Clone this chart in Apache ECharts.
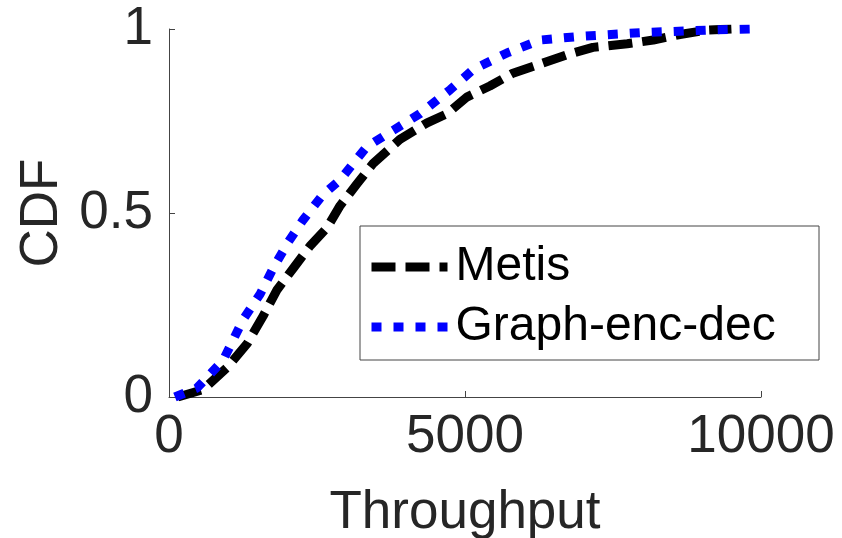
<!DOCTYPE html>
<html>
<head>
<meta charset="utf-8">
<script src="https://cdn.jsdelivr.net/npm/echarts@6/dist/echarts.min.js"></script>
<style>
html,body{margin:0;padding:0;background:#fff;}
#cdf_chartID{width:842px;height:538px;}
</style>
</head>
<body>
<div id="cdf_chartID"></div>
<script>
// CDF of throughput
var seriesNames = ["Metis", "Graph-enc-dec"];
var metisX = [150, 575, 980, 1320, 1590, 1820, 2100, 2380, 2670, 2890, 3180, 3450, 3900, 4360, 4700, 5030, 5420, 5810, 6270, 6720, 7160, 7740, 8180, 8630, 9090, 9500];
var metisY = [0, 0.02, 0.08, 0.145, 0.22, 0.29, 0.35, 0.41, 0.46, 0.52, 0.58, 0.635, 0.70, 0.745, 0.77, 0.815, 0.845, 0.88, 0.905, 0.93, 0.95, 0.96, 0.97, 0.985, 0.997, 1.0];
var graphX = [100, 470, 915, 1250, 1540, 1760, 2010, 2260, 2600, 2890, 3340, 3790, 4240, 4750, 5140, 5710, 6270, 6940, 7960, 9090, 9860];
var graphY = [0, 0.024, 0.10, 0.21, 0.28, 0.35, 0.42, 0.48, 0.55, 0.59, 0.68, 0.725, 0.77, 0.835, 0.89, 0.935, 0.97, 0.98, 0.99, 0.997, 1.0];
var xTicks = [0, 5000, 10000];
var yTicks = [0, 0.5, 1];

function pairs(xs, ys){
	var out = [];
	for(var i = 0; i < xs.length; i++){ out.push([xs[i], ys[i]]); }
	return out;
}

var textColor = '#262626';
var chart = echarts.init(document.getElementById('cdf_chartID'));
var option = {
	animation: false,
	grid: {
		left: 169,
		right: 81,
		top: 29,
		bottom: 141,
		containLabel: false,
		outerBoundsMode: 'none'
	},
	xAxis: {
		type: 'value',
		min: xTicks[0],
		max: xTicks[xTicks.length - 1],
		interval: 5000,
		name: 'Throughput',
		nameLocation: 'middle',
		nameGap: 90,
		nameTextStyle: { color: textColor, fontSize: 53, fontFamily: 'Liberation Sans' },
		axisLine: { show: true, lineStyle: { color: '#444', width: 1 } },
		axisTick: { show: true, inside: true, length: 6, lineStyle: { color: '#444' } },
		splitLine: { show: false },
		axisLabel: {
			color: textColor, fontSize: 53, fontFamily: 'Liberation Sans', margin: 14,
			formatter: function(val){ return String(val); }
		}
	},
	yAxis: {
		type: 'value',
		min: yTicks[0],
		max: yTicks[yTicks.length - 1],
		interval: 0.5,
		name: 'CDF',
		nameLocation: 'middle',
		nameGap: 90,
		nameTextStyle: { color: textColor, fontSize: 53, fontFamily: 'Liberation Sans' },
		axisLine: { show: true, lineStyle: { color: '#444', width: 1 } },
		axisTick: { show: true, inside: true, length: 6, lineStyle: { color: '#444' } },
		splitLine: { show: false },
		axisLabel: { color: textColor, fontSize: 53, fontFamily: 'Liberation Sans', margin: 16 }
	},
	graphic: [{
		type: 'rect',
		shape: { x: 360, y: 226, width: 459, height: 134 },
		style: { fill: '#fff', stroke: '#444', lineWidth: 1 },
		z: 90
	}],
	legend: {
		orient: 'vertical',
		left: 362,
		top: 238,
		itemWidth: 76,
		itemHeight: 20,
		itemGap: 12,
		z: 100,
		itemStyle: { opacity: 0 },
		lineStyle: { width: 9, cap: 'butt' },
		textStyle: { color: '#000', fontSize: 48, fontFamily: 'Liberation Sans', padding: [0, 0, 0, 3] },
		data: seriesNames
	},
	series: [{
		name: seriesNames[0],
		type: 'line',
		symbol: 'none',
		smooth: false,
		lineStyle: { color: '#000', width: 9, type: [24, 10], cap: 'butt' },
		itemStyle: { color: '#000' },
		data: pairs(metisX, metisY),
		z: 2
	}, {
		name: seriesNames[1],
		type: 'line',
		symbol: 'none',
		smooth: false,
		lineStyle: { color: '#0000ff', width: 9, type: [10, 12], cap: 'butt' },
		itemStyle: { color: '#0000ff' },
		data: pairs(graphX, graphY),
		z: 3
	}]
};
chart.setOption(option);
</script>
</body>
</html>
